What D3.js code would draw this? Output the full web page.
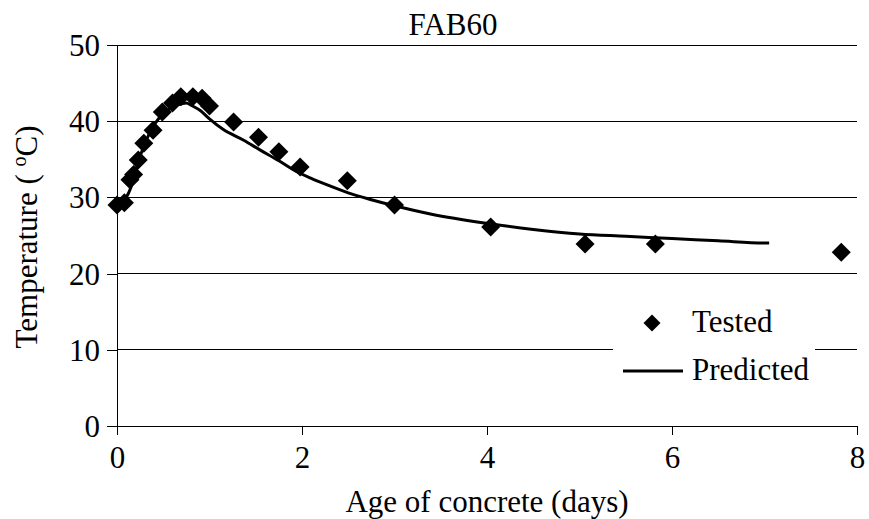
<!DOCTYPE html>
<html>
<head>
<meta charset="utf-8">
<script src="https://cdn.jsdelivr.net/npm/d3@7"></script>
<style>
  html, body { margin: 0; padding: 0; background: #fff; }
  svg { display: block; }
</style>
</head>
<body>
<svg id="chart" width="869" height="519"></svg>
<script>
// ---- data ----
const title = "FAB60";
const xTicks = [0, 2, 4, 6, 8];
const yTicks = [0, 10, 20, 30, 40, 50];
const testedAge = [0, 0.08, 0.14, 0.18, 0.23, 0.29, 0.39, 0.49, 0.6, 0.69, 0.82, 0.92, 1.0, 1.26, 1.53, 1.75, 1.98, 2.49, 3.0, 4.04, 5.06, 5.82, 7.83];
const testedTemp = [29.0, 29.3, 32.3, 33.0, 34.9, 37.1, 38.8, 41.2, 42.4, 43.2, 43.2, 43.0, 42.0, 39.9, 37.9, 36.0, 34.0, 32.2, 29.0, 26.1, 23.9, 23.9, 22.8];
const predAge = [0, 0.05, 0.1, 0.15, 0.2, 0.25, 0.3, 0.4, 0.5, 0.6, 0.7, 0.75, 0.8, 0.9, 1.0, 1.15, 1.37, 1.55, 1.75, 1.91, 2.1, 2.28, 2.5, 2.75, 3.0, 3.4, 4.0, 4.5, 5.0, 5.5, 6.0, 6.5, 7.0, 7.05];
const predTemp = [29.0, 29.3, 30.0, 31.3, 33.3, 35.4, 37.0, 39.5, 41.0, 41.9, 42.3, 42.4, 42.1, 41.4, 40.3, 38.9, 37.5, 36.2, 34.8, 33.6, 32.5, 31.6, 30.6, 29.7, 28.9, 27.8, 26.6, 25.8, 25.2, 24.9, 24.6, 24.3, 24.0, 24.0];
const seriesNames = ["Tested", "Predicted"];
const xLabel = "Age of concrete (days)";

// ---- layout ----
const FONT = "Liberation Serif";
const svg = d3.select("#chart");
const x = d3.scaleLinear().domain([0, 8]).range([117, 857]);
const y = d3.scaleLinear().domain([0, 50]).range([426, 45]);
const FS = 31;

function txt(sel) {
  return sel.style("font-family", `"${FONT}"`).attr("font-size", FS).attr("fill", "#000");
}

// gridlines
svg.append("g").selectAll("line").data(yTicks.filter(d => d > 0)).join("line")
  .attr("x1", x(0)).attr("x2", x(8))
  .attr("y1", d => y(d)).attr("y2", d => y(d))
  .attr("stroke", "#000").attr("stroke-width", 1).attr("shape-rendering", "crispEdges");

// legend background (covers gridline)
svg.append("rect").attr("x", 613).attr("y", 286).attr("width", 202).attr("height", 118).attr("fill", "#fff");

// axes
const yAxis = d3.axisLeft(y).tickValues(yTicks).tickSize(10).tickPadding(7);
const gy = svg.append("g").attr("transform", `translate(${x(0)},0)`).call(yAxis);
gy.select(".domain").attr("stroke", "#000").attr("shape-rendering", "crispEdges");
gy.selectAll(".tick line").attr("stroke", "#000").attr("shape-rendering", "crispEdges");
txt(gy.selectAll(".tick text")).attr("dy", "0.34em");

const xAxis = d3.axisBottom(x).tickValues(xTicks).tickSize(9).tickPadding(4).tickSizeOuter(0);
const gx = svg.append("g").attr("transform", `translate(0,${y(0)})`).call(xAxis);
gx.select(".domain").attr("stroke", "#000").attr("shape-rendering", "crispEdges");
gx.selectAll(".tick line").attr("stroke", "#000").attr("shape-rendering", "crispEdges");
txt(gx.selectAll(".tick text")).attr("dy", "0.95em");

// titles
txt(svg.append("text")).attr("x", 453).attr("y", 35).attr("text-anchor", "middle").text(title);
txt(svg.append("text")).attr("x", x(4)).attr("y", 512).attr("text-anchor", "middle").text(xLabel);
const yt = txt(svg.append("text")).attr("transform", "translate(37,237) rotate(-90)").attr("text-anchor", "middle");
yt.append("tspan").text("Temperature ( ");
yt.append("tspan").attr("font-size", 20).attr("dy", -11).text("o");
yt.append("tspan").attr("dy", 11).text("C)");

// predicted line
const predData = predAge.map((a, i) => ({ a, t: predTemp[i] }));
const line = d3.line().x(d => x(d.a)).y(d => y(d.t)).curve(d3.curveMonotoneX);
svg.append("path").datum(predData).attr("d", line)
  .attr("fill", "none").attr("stroke", "#000").attr("stroke-width", 3).attr("stroke-linejoin", "round");

// tested diamonds
const diamond = r => `M0,${-r}L${r},0L0,${r}L${-r},0Z`;
const testedData = testedAge.map((a, i) => ({ a, t: testedTemp[i] }));
svg.append("g").selectAll("path").data(testedData).join("path")
  .attr("transform", d => `translate(${x(d.a)},${y(d.t)})`)
  .attr("d", diamond(9.5)).attr("fill", "#000");

// legend
svg.append("path").attr("transform", "translate(652,323)").attr("d", diamond(8.5)).attr("fill", "#000");
txt(svg.append("text")).attr("x", 692).attr("y", 332).text(seriesNames[0]);
svg.append("line").attr("x1", 623).attr("x2", 683).attr("y1", 371).attr("y2", 371).attr("stroke", "#000").attr("stroke-width", 3);
txt(svg.append("text")).attr("x", 692).attr("y", 380).text(seriesNames[1]);
</script>
</body>
</html>
